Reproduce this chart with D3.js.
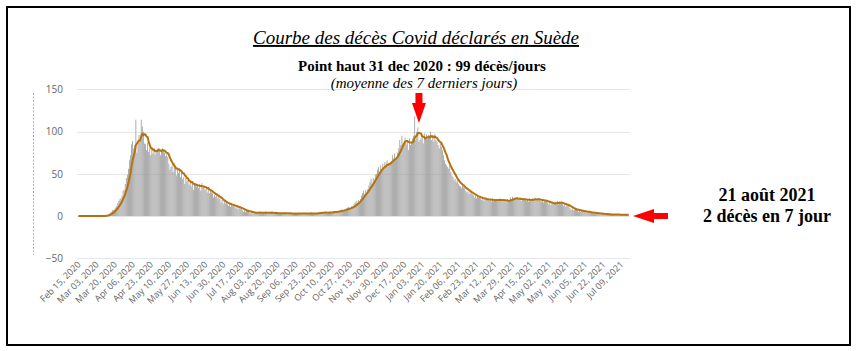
<!DOCTYPE html>
<html>
<head>
<meta charset="utf-8">
<script src="https://cdn.jsdelivr.net/npm/d3@7"></script>
<style>
  body { margin: 0; background: #fff; }
  svg { display: block; }
</style>
</head>
<body>
<svg id="chart" width="859" height="351"></svg>
<script>
// décès quotidiens (Suède), une ligne = une semaine, à partir du 15 fév 2020
const weeklyDeaths = [
  [0,0,0,0,0,0,0], [0,0,0,0,0,0,0], [0,0,0,0,0,0,0],
  [0,0,0,0,1,1,0], [2,3,4,5,7,7,8], [10,12,15,18,20,21,24],
  [30,31,38,45,49,56,66], [72,85,89,80,84,114,75], [88,96,89,114,106,100,86],
  [85,78,87,76,80,72,82], [74,80,73,78,79,81,80], [72,76,80,78,75,71,73],
  [70,62,55,58,60,52,63], [57,48,55,51,57,46,55], [44,46,38,45,41,43,37],
  [40,35,41,31,38,39,35], [36,33,38,30,39,34,35], [31,32,28,34,27,30,28],
  [27,22,25,23,26,21,24], [20,16,19,14,18,15,17], [14,12,15,11,14,12,13],
  [11,9,12,8,11,9,10], [7,5,7,5,6,6,6], [4,3,5,3,4,5,4],
  [4,3,5,4,3,5,4], [3,5,4,3,4,5,4], [4,3,3,4,3,4,3],
  [3,4,3,3,4,4,3], [3,2,4,3,3,3,3], [2,3,3,4,3,3,3],
  [3,3,2,4,3,3,3], [3,4,3,3,3,2,3], [4,3,5,4,4,3,5],
  [4,5,4,3,4,5,4], [5,4,6,5,4,6,5], [6,7,8,6,7,8,7],
  [9,10,11,9,10,12,10], [14,16,18,15,19,17,20], [24,27,30,26,31,28,32],
  [36,40,44,38,45,42,49], [50,55,58,52,60,54,62], [58,64,60,66,59,63,64],
  [65,72,68,74,66,70,75], [80,90,84,95,86,88,93], [85,90,78,92,84,88,92],
  [95,118,90,100,105,88,90], [92,96,86,98,91,97,91], [96,92,100,90,95,88,97],
  [90,88,84,80,86,82,78], [72,66,62,60,58,56,60], [52,48,46,42,44,40,43],
  [38,36,35,33,36,34,33], [30,28,29,26,30,27,26], [25,22,24,21,23,22,24],
  [21,19,20,18,22,19,21], [20,18,19,17,21,18,20], [18,20,17,19,21,18,20],
  [19,17,18,16,20,17,19], [22,20,23,19,22,21,20], [20,19,22,18,21,19,21],
  [19,18,20,17,21,18,20], [21,19,22,18,20,19,21], [18,17,20,16,19,17,19],
  [16,14,17,13,16,14,15], [17,15,18,14,17,15,16], [14,12,15,11,14,12,13],
  [9,7,9,7,8,8,8], [7,5,7,5,6,6,6], [5,4,5,4,5,4,4],
  [4,3,4,3,4,3,3], [3,2,3,2,3,2,2], [2,2,2,1,2,2,2],
  [2,1,2,1,2,1,2], [2,1,2,1,2,1,2]
];
const startDate = new Date(2020, 1, 15);
const yTicks = [-50, 0, 50, 100, 150];
const labelStep = 17; // une étiquette tous les 17 jours

const titleText = "Courbe des décès Covid déclarés en Suède";
const subTitle = "Point haut 31 dec 2020 : 99 décès/jours";
const subTitle2 = "(moyenne des 7 derniers jours)";
const noteLines = ["21 août 2021", "2 décès en 7 jour"];

const deaths = weeklyDeaths.flat();
const days = deaths.map((d, i) => ({ date: d3.timeDay.offset(startDate, i), value: d, i: i }));

// moyenne glissante 7 jours
days.forEach(function(d, i) {
  const win = deaths.slice(Math.max(0, i - 6), i + 1);
  d.avg = d3.mean(win);
});

const svg = d3.select("#chart");

// cadre
svg.append("rect")
  .attr("x", 7).attr("y", 7)
  .attr("width", 843).attr("height", 338)
  .attr("fill", "none")
  .attr("stroke", "#000")
  .attr("stroke-width", 2);

const x = d3.scaleBand()
  .domain(days.map(d => d.i))
  .range([78, 629])
  .paddingInner(0.25);

const y = d3.scaleLinear()
  .domain([-50, 150])
  .range([258.3, 89.3]);

// grille
svg.append("g")
  .selectAll("line")
  .data(yTicks)
  .join("line")
    .attr("x1", 77).attr("x2", 630)
    .attr("y1", d => Math.round(y(d)) + 0.5)
    .attr("y2", d => Math.round(y(d)) + 0.5)
    .attr("stroke", d => d === -50 ? "#e4e6f0" : "#e6e6e6")
    .attr("stroke-width", 1);

// axe y (étiquettes seulement)
const yAxis = svg.append("g")
  .attr("transform", "translate(77,0)")
  .call(d3.axisLeft(y).tickValues(yTicks).tickSize(0).tickPadding(14).tickFormat(d3.format("d")));
yAxis.select(".domain").remove();
yAxis.selectAll("text")
  .attr("fill", "#666")
  .style("font-family", "'Open Sans', sans-serif")
  .style("font-size", "10px");

// ligne pointillée à gauche (titre d'axe illisible)
svg.append("line")
  .attr("x1", 33.5).attr("x2", 33.5)
  .attr("y1", 93).attr("y2", 255)
  .attr("stroke", "#b0b0b0")
  .attr("stroke-width", 1)
  .attr("stroke-dasharray", "2,1.5");

// barres
svg.append("g")
  .selectAll("rect")
  .data(days.filter(d => d.value > 0))
  .join("rect")
    .attr("x", d => x(d.i))
    .attr("width", x.bandwidth())
    .attr("y", d => y(d.value))
    .attr("height", d => y(0) - y(d.value))
    .attr("fill", "#9a9a9a");

// moyenne 7 jours
const line = d3.line()
  .x(d => x(d.i) + x.bandwidth() / 2)
  .y(d => y(d.avg));

svg.append("path")
  .datum(days)
  .attr("fill", "none")
  .attr("stroke", "#b5730f")
  .attr("stroke-width", 2)
  .attr("stroke-linejoin", "round")
  .attr("d", line);

// étiquettes x
const fmt = d3.timeFormat("%b %d, %Y");
svg.append("g")
  .selectAll("text")
  .data(days.filter(d => d.i % labelStep === 0))
  .join("text")
    .attr("transform", d => "translate(" + (x(d.i) + x.bandwidth() / 2 + 3) + ",265) rotate(-45)")
    .attr("text-anchor", "end")
    .attr("fill", "#666")
    .style("font-family", "'Open Sans', sans-serif")
    .style("font-size", "9px")
    .text(d => fmt(d.date));

// titres
svg.append("text")
  .attr("x", 416).attr("y", 44)
  .attr("text-anchor", "middle")
  .attr("text-decoration", "underline")
  .style("font-family", "'Liberation Serif', serif")
  .style("font-style", "italic")
  .style("font-size", "19px")
  .text(titleText);

svg.append("text")
  .attr("x", 422).attr("y", 71)
  .attr("text-anchor", "middle")
  .style("font-family", "'Liberation Serif', serif")
  .style("font-weight", "bold")
  .style("font-size", "15px")
  .text(subTitle);

svg.append("text")
  .attr("x", 424).attr("y", 88)
  .attr("text-anchor", "middle")
  .style("font-family", "'Liberation Serif', serif")
  .style("font-style", "italic")
  .style("font-size", "15px")
  .text(subTitle2);

// flèche vers le bas (pic du 31 déc)
const peakX = x(days[320].i) + x.bandwidth() / 2;
svg.append("path")
  .attr("d", "M" + (peakX - 3.5) + ",93 h7 v10 h3.5 l-7,20 l-7,-20 h3.5 z")
  .attr("fill", "#f00");

// note à droite
svg.append("g")
  .selectAll("text")
  .data(noteLines)
  .join("text")
    .attr("x", 767)
    .attr("y", (d, i) => 201 + i * 21)
    .attr("text-anchor", "middle")
    .style("font-family", "'Liberation Serif', serif")
    .style("font-weight", "bold")
    .style("font-size", "18px")
    .text(d => d);

// flèche vers la gauche
const ay = y(0);
svg.append("path")
  .attr("d", "M633," + ay + " l21,-7 v4 h14 v6 h-14 v4 z")
  .attr("fill", "#f00");
</script>
</body>
</html>
